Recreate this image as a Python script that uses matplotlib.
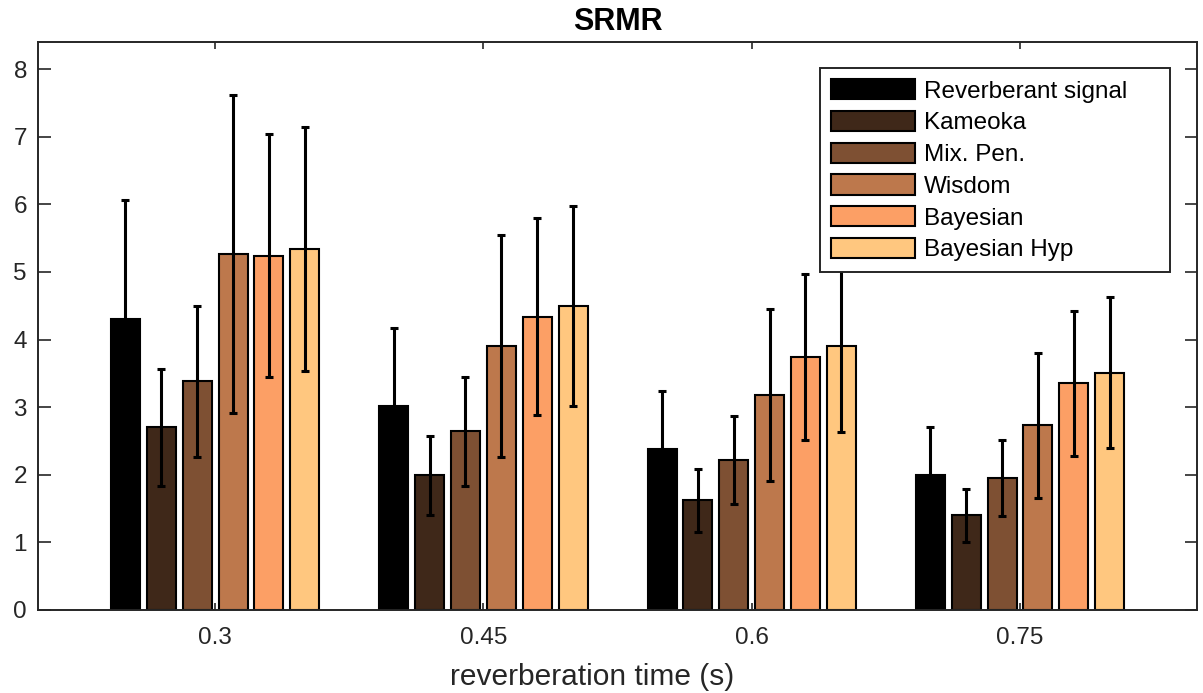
import numpy as np
import matplotlib.pyplot as plt

plt.rcParams['font.family'] = ['Liberation Sans', 'DejaVu Sans']

# reverberation times (x categories)
rt_labels = ['0.3', '0.45', '0.6', '0.75']
methods = ['Reverberant signal', 'Kameoka', 'Mix. Pen.', 'Wisdom', 'Bayesian', 'Bayesian Hyp']

# mean SRMR per method, one value per reverberation time
reverberant = [4.30, 3.02, 2.38, 2.00]
kameoka = [2.70, 1.99, 1.62, 1.40]
mix_pen = [3.38, 2.64, 2.22, 1.95]
wisdom = [5.27, 3.90, 3.18, 2.73]
bayesian = [5.24, 4.34, 3.74, 3.35]
bayesian_hyp = [5.34, 4.50, 3.91, 3.51]

# standard deviations (error bars)
reverberant_sd = [1.77, 1.15, 0.86, 0.71]
kameoka_sd = [0.87, 0.59, 0.46, 0.39]
mix_pen_sd = [1.11, 0.81, 0.65, 0.56]
wisdom_sd = [2.35, 1.64, 1.27, 1.07]
bayesian_sd = [1.80, 1.46, 1.23, 1.07]
bayesian_hyp_sd = [1.81, 1.48, 1.28, 1.12]

means = [reverberant, kameoka, mix_pen, wisdom, bayesian, bayesian_hyp]
sds = [reverberant_sd, kameoka_sd, mix_pen_sd, wisdom_sd, bayesian_sd, bayesian_hyp_sd]

# copper colormap, like MATLAB
colors = plt.cm.copper(np.linspace(0, 1, len(methods)))

fig = plt.figure(figsize=(12.03, 6.93), dpi=100)
ax = fig.add_axes([0.0316, 0.1198, 0.9635, 0.8195])

x = np.arange(1, len(rt_labels) + 1)
step = 0.1336
width = 0.108
for k in range(len(methods)):
    pos = x + (k - 2.5) * step
    ax.bar(pos, means[k], width, color=colors[k], edgecolor='black',
           linewidth=1.5, label=methods[k], zorder=2)
    ax.errorbar(pos, means[k], yerr=sds[k], fmt='none', ecolor='black',
                elinewidth=2.2, capsize=3, capthick=2.2, zorder=3)

ax.set_xlim(0.34, 4.66)
ax.set_ylim(0, 8.4)
ax.set_xticks(x)
ax.set_xticklabels(rt_labels)
ax.set_yticks(range(0, 9))
ax.tick_params(axis='both', direction='in', top=True, right=True,
               labelsize=17.5, colors='#262626', width=1.2)
ax.tick_params(axis='x', length=5, pad=12)
ax.tick_params(axis='y', length=9, pad=8)
for s in ax.spines.values():
    s.set_linewidth(1.4)
    s.set_color('#262626')

ax.set_xlabel('reverberation time (s)', fontsize=21.5, color='#262626',
              labelpad=10, x=0.478)
ax.set_title('SRMR', fontsize=22, fontweight='bold', pad=9)

# MATLAB-like legend box with extra room on the right
leg = ax.legend(loc='upper left', bbox_to_anchor=(0.6747, 0.595, 0.302, 0.359),
                mode='expand', borderaxespad=0, fontsize=17.5,
                handlelength=3.45, handleheight=0.9, labelspacing=0.34,
                handletextpad=0.37, borderpad=0.45, fancybox=False,
                framealpha=1, edgecolor='#262626')
leg.get_frame().set_linewidth(1.4)

plt.savefig('out.png', dpi=100)
